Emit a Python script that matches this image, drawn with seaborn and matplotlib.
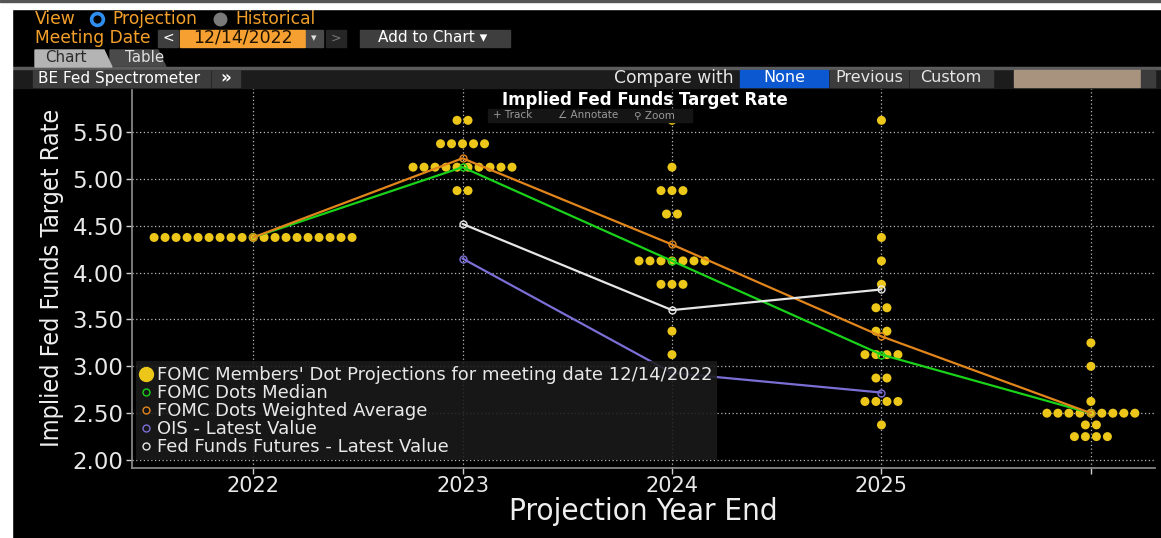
import numpy as np
import pandas as pd
import seaborn as sns
import matplotlib.pyplot as plt
from matplotlib.patches import Rectangle, Polygon
from matplotlib.lines import Line2D

# x positions 0..4 -> 2022, 2023, 2024, 2025, longer run
year_labels = ["2022", "2023", "2024", "2025", ""]
median = [4.375, 5.125, 4.125, 3.125, 2.5]
weighted = [4.375, 5.22, 4.30, 3.32, 2.5]
ois = [np.nan, 4.15, 2.93, 2.72, np.nan]
ff_futures = [np.nan, 4.52, 3.60, 3.82, np.nan]

# FOMC dots: (rate, number of participants) per projection year
dots_2022 = [(4.375, 19)]
dots_2023 = [(5.625, 2), (5.375, 5), (5.125, 10), (4.875, 2)]
dots_2024 = [(5.625, 1), (5.125, 1), (4.875, 3), (4.625, 2), (4.125, 7),
             (3.875, 3), (3.375, 1), (3.125, 1)]
dots_2025 = [(5.625, 1), (4.375, 1), (4.125, 1), (3.875, 1), (3.625, 2),
             (3.375, 2), (3.125, 4), (2.875, 2), (2.625, 4), (2.375, 1)]
dots_longer = [(3.25, 1), (3.0, 1), (2.625, 1), (2.5, 9), (2.375, 2), (2.25, 4)]
dot_years = [dots_2022, dots_2023, dots_2024, dots_2025, dots_longer]

yticks = [2.0, 2.5, 3.0, 3.5, 4.0, 4.5, 5.0, 5.5]

W, H = 1161, 538
DOT_STEP = 0.0525

sns.set_theme(style="dark", rc={
    "axes.facecolor": "black", "figure.facecolor": "black",
    "axes.edgecolor": "#8a8a8a", "text.color": "white",
    "xtick.color": "#e8e8e8", "ytick.color": "#e8e8e8",
})
plt.rcParams["font.family"] = ["DejaVu Sans"]

rows = []
for xi, levels in enumerate(dot_years):
    for rate, n in levels:
        for j in range(n):
            rows.append({"x": xi + (j - (n - 1) / 2) * DOT_STEP, "rate": rate})
dots = pd.DataFrame(rows)

fig = plt.figure(figsize=(W / 100, H / 100), dpi=100)
ax = fig.add_axes([132 / W, 1 - 468 / H, (1155 - 132) / W, (468 - 88) / H])

sns.scatterplot(data=dots, x="x", y="rate", ax=ax, color="#ecc71a", s=42,
                edgecolor="none", zorder=2, legend=False)

xpos = list(range(len(year_labels)))
series = [(median, "#19d219"), (weighted, "#e2861c"),
          (ois, "#7b6fd6"), (ff_futures, "#e6e6e6")]
for vals, col in series:
    sns.lineplot(x=xpos, y=vals, ax=ax, color=col, lw=1.6, sort=False,
                 marker="o", markersize=5, markerfacecolor="none",
                 markeredgecolor=col, markeredgewidth=1.0, zorder=3)

ax.set_xlim(-0.578, 4.306)
ax.set_ylim(1.915, 5.97)
ax.set_xticks(xpos)
ax.set_xticklabels(year_labels, fontsize=15)
ax.set_yticks(yticks)
ax.set_yticklabels([f"{v:.2f}" for v in yticks], fontsize=16.5)
ax.tick_params(axis="both", length=4, width=1, color="#cfcfcf", pad=2,
               bottom=True, left=True)
ax.grid(True, color="#b8b8b8", linestyle=(0, (1, 2)), linewidth=0.9)
for s in ["top", "right"]:
    ax.spines[s].set_visible(False)

ax.set_ylabel("Implied Fed Funds Target Rate", fontsize=18,
              fontstretch="condensed", color="#eeeeee")
ax.set_xlabel("Projection Year End", fontsize=22.5,
              fontstretch="condensed", color="#eeeeee")
ax.yaxis.set_label_coords(-0.066, 0.5)
ax.xaxis.set_label_coords(0.5, -0.077)

handles = [
    Line2D([], [], ls="none", marker="o", ms=10, color="#ecc71a"),
    Line2D([], [], ls="none", marker="o", ms=5, mfc="none", mec="#19d219"),
    Line2D([], [], ls="none", marker="o", ms=5, mfc="none", mec="#e2861c"),
    Line2D([], [], ls="none", marker="o", ms=5, mfc="none", mec="#7b6fd6"),
    Line2D([], [], ls="none", marker="o", ms=5, mfc="none", mec="#e6e6e6"),
]
labels = ["FOMC Members' Dot Projections for meeting date 12/14/2022",
          "FOMC Dots Median", "FOMC Dots Weighted Average",
          "OIS - Latest Value", "Fed Funds Futures - Latest Value"]
leg = ax.legend(handles, labels, loc="lower left", bbox_to_anchor=(0.004, 0.02),
                borderaxespad=0, fontsize=13, labelspacing=0.0,
                handlelength=0.6, handletextpad=0.3, borderpad=0.25,
                fancybox=False, framealpha=0.88, facecolor="#1b1b1b",
                edgecolor="none", labelcolor="#e8e8e8")
leg.set_zorder(5)


def box(x0, y0, x1, y1, color, z=1):
    fig.patches.append(Rectangle((x0 / W, 1 - y1 / H), (x1 - x0) / W,
                                 (y1 - y0) / H, transform=fig.transFigure,
                                 color=color, zorder=z))


def txt(x, y, s, color="white", size=11, **kw):
    fig.text(x / W, 1 - y / H, s, color=color, fontsize=size, va="center", **kw)


orange = "#f3a02a"
# frame edges
box(0, 0, 12, H, "white", 10)
box(0, 0, W, 9, "white", 10)
box(0, 0, W, 2, "#555555", 11)

# header rows
txt(35, 19, "View", orange, 12.3)
fig.add_artist(Line2D([97 / W], [1 - 19 / H], marker="o", ms=8.5, mfc="black",
                      mec="#2f8ff0", mew=2.6, transform=fig.transFigure))
txt(112, 19, "Projection", orange, 12.3)
fig.add_artist(Line2D([220 / W], [1 - 19 / H], marker="o", ms=9, color="#7a7a7a",
                      transform=fig.transFigure))
txt(235, 19, "Historical", orange, 12.3)

txt(35, 38, "Meeting Date", orange, 12.3)
box(158, 30, 178, 47, "#3e3e3e")
txt(168, 38, "<", "white", 10, ha="center")
box(180, 30, 305, 47, "#f5a030")
txt(193, 38, "12/14/2022", "#1e1200", 12.5)
box(306, 30, 323, 47, "#4a4a4a")
txt(314, 38, "\u25be", "#dddddd", 8, ha="center")
box(326, 30, 346, 47, "#262626")
txt(336, 38, ">", "#777777", 9, ha="center")
box(360, 30, 510, 47, "#3e3e3e")
txt(378, 38, "Add to Chart \u25be", "white", 11)

fig.patches.append(Polygon([(35 / W, 1 - 67 / H), (35 / W, 1 - 50 / H),
                            (104 / W, 1 - 50 / H), (112 / W, 1 - 67 / H)],
                           closed=True, transform=fig.transFigure,
                           color="#b4b4b4", zorder=2))
fig.patches.append(Polygon([(110 / W, 1 - 67 / H), (110 / W, 1 - 50 / H),
                            (158 / W, 1 - 50 / H), (166 / W, 1 - 67 / H)],
                           closed=True, transform=fig.transFigure,
                           color="#4a4a4a", zorder=1))
txt(45, 58, "Chart", "#2a2a2a", 10.8, zorder=3)
txt(125, 58, "Table", "#e0e0e0", 10.8, zorder=3)

box(12, 67, W, 88, "#1c1c1c")
box(12, 67, W, 69, "#5c5c5c")
box(33, 70, 210, 87, "#3c3c3c", 2)
txt(38, 78, "BE Fed Spectrometer", "white", 11, zorder=3)
box(212, 70, 240, 87, "#3c3c3c", 2)
txt(226, 78, "\u00bb", "white", 12, ha="center", fontweight="bold", zorder=3)
txt(614, 78, "Compare with", "#e6e6e6", 12.3, zorder=3)
box(740, 70, 828, 87, "#0b58d0", 2)
txt(784, 78, "None", "white", 11.5, ha="center", zorder=3)
box(830, 70, 908, 87, "#3c3c3c", 2)
txt(869, 78, "Previous", "#e6e6e6", 11.5, ha="center", zorder=3)
box(910, 70, 993, 87, "#3c3c3c", 2)
txt(951, 78, "Custom", "#e6e6e6", 11.5, ha="center", zorder=3)
box(1014, 70, 1140, 87, "#a8947e", 2)
box(1141, 70, 1155, 87, "#3c3c3c", 2)

# chart title and toolbar
txt(645, 100, "Implied Fed Funds Target Rate", "white", 12, ha="center",
    fontweight="bold", zorder=4)
box(488, 109, 692, 122, "#151515", 2)
txt(493, 115.5, "+ Track", "#9a9a9a", 7.5, zorder=3)
txt(558, 115.5, "\u2220 Annotate", "#9a9a9a", 7.5, zorder=3)
txt(634, 115.5, "\u26b2 Zoom", "#9a9a9a", 7.5, zorder=3)

fig.savefig("out.png", dpi=100, facecolor="black")
